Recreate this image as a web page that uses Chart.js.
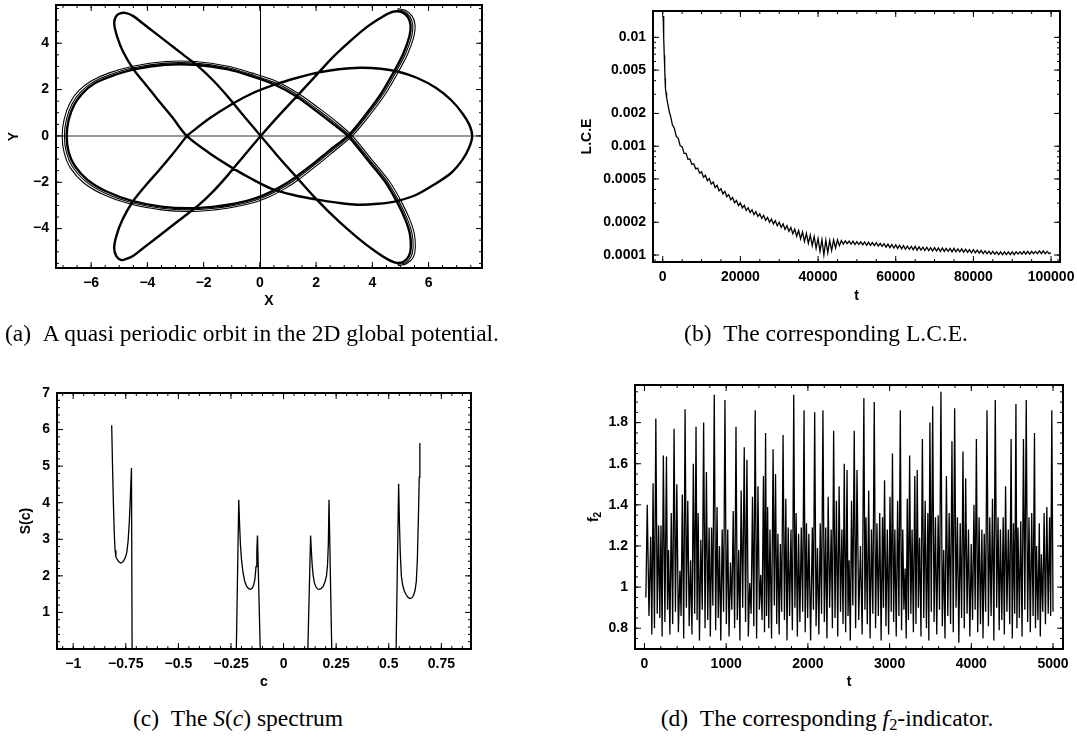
<!DOCTYPE html>
<html>
<head>
<meta charset="utf-8">
<title>Quasi periodic orbit, L.C.E., S(c) spectrum and f2-indicator</title>
<script src="https://cdn.jsdelivr.net/npm/chart.js@4.4.1/dist/chart.umd.min.js"></script>
<style>
  html, body { margin: 0; padding: 0; background: #fff; }
  body { position: relative; width: 1077px; height: 738px; overflow: hidden; }
  .panel { position: absolute; }
  .cap {
    position: absolute; white-space: nowrap; color: #000;
    font-family: "Liberation Serif", "Times New Roman", serif;
    font-size: 23.5px; line-height: 23px;
  }
  .cap sub { font-size: 70%; line-height: 0; vertical-align: -0.22em; }
</style>
</head>
<body>
<div class="panel" style="left:0;top:0;width:490px;height:310px"><canvas id="orbitChart"></canvas></div>
<div class="panel" style="left:540px;top:0;width:537px;height:305px"><canvas id="lceChart"></canvas></div>
<div class="panel" style="left:0;top:330px;width:490px;height:361px"><canvas id="spectrumChart"></canvas></div>
<div class="panel" style="left:540px;top:330px;width:537px;height:361px"><canvas id="f2Chart"></canvas></div>

<div class="cap" style="left:499px;top:322px;transform:translateX(-100%)">(a)&ensp;A quasi periodic orbit in the 2D global potential.</div>
<div class="cap" style="left:826px;top:322px;transform:translateX(-50%)">(b)&ensp;The corresponding L.C.E.</div>
<div class="cap" style="left:238px;top:707px;transform:translateX(-50%)">(c)&ensp;The <i>S</i>(<i>c</i>) spectrum</div>
<div class="cap" style="left:827px;top:707px;transform:translateX(-50%)">(d)&ensp;The corresponding <i>f</i><sub>2</sub>-indicator.</div>

<script>
'use strict';

// ---------------------------------------------------------------------------
// Data
// ---------------------------------------------------------------------------

// (a) orbit in the (X, Y) plane, one closed pass, [x, y]
const orbitMain = [
  [-2.6,0],[-1.8,0.75],[-1.0,1.37],[-0.3,1.82],[0.5,2.2],[1.3,2.5],[2.05,2.73],[2.8,2.88],[3.57,2.94],[4.3,2.9],
  [4.9,2.78],[5.6,2.5],[6.27,2.07],[6.8,1.55],[7.2,0.98],[7.45,0.48],[7.55,0],
  [7.45,-0.48],[7.22,-1.0],[6.8,-1.6],[6.2,-2.1],[5.55,-2.55],[4.9,-2.8],[4.2,-2.93],[3.46,-2.97],[2.75,-2.88],
  [2.05,-2.75],[1.2,-2.55],[0.4,-2.27],[-0.3,-1.85],[-0.95,-1.4],[-1.75,-0.78],[-2.6,0],
  [-3.1,0.78],[-3.6,1.52],[-4.05,2.2],[-4.48,2.85],[-4.85,3.6],[-5.08,4.3],[-5.18,4.85],[-5.12,5.15],[-4.97,5.29],
  [-4.75,5.3],[-4.5,5.17],[-4.18,4.87],[-3.75,4.47],[-3.36,4.1],[-2.75,3.53],[-2.19,3.0],[-1.65,2.38],[-1.13,1.68],
  [-0.55,0.83],[0.03,0],
  [0.6,-0.82],[1.23,-1.68],[2.05,-2.78],[2.8,-3.68],[3.5,-4.42],[4.1,-4.98],[4.55,-5.33],[4.87,-5.48],[5.12,-5.42],
  [5.3,-5.18],[5.37,-4.8],[5.33,-4.2],[5.17,-3.6],[4.9,-2.9],[4.47,-2.0],[3.82,-1.02],[3.13,0],
  [2.6,0.52],[2.0,1.08],[1.29,1.71],[0.52,2.22],[-0.3,2.58],[-1.13,2.87],[-2.3,3.07],[-3.36,3.07],[-4.48,2.87],
  [-5.3,2.57],[-5.9,2.25],[-6.3,1.85],[-6.6,1.35],[-6.8,0.7],[-6.87,0],
  [-6.8,-0.7],[-6.58,-1.3],[-6.13,-1.9],[-5.45,-2.4],[-4.55,-2.8],[-3.5,-3.05],[-2.54,-3.12],[-1.6,-3.05],
  [-1.13,-2.97],[-0.4,-2.78],[0.16,-2.54],[0.7,-2.22],[1.23,-1.81],[1.9,-1.2],[2.5,-0.6],[3.13,0],
  [3.72,0.85],[4.3,1.8],[4.75,2.73],[5.1,3.55],[5.32,4.3],[5.36,4.78],[5.27,5.12],[5.07,5.33],[4.85,5.38],
  [4.6,5.3],[4.2,5.02],[3.7,4.6],[3.22,4.1],[2.6,3.4],[2.05,2.68],[1.23,1.6],[0.6,0.78],[0.03,0],
  [-0.55,-0.83],[-1.13,-1.68],[-1.65,-2.38],[-2.19,-3.0],[-2.75,-3.53],[-3.36,-4.1],[-3.75,-4.47],[-4.18,-4.87],
  [-4.5,-5.17],[-4.75,-5.31],[-4.92,-5.36],[-5.1,-5.2],[-5.18,-4.85],[-5.1,-4.3],[-4.88,-3.6],[-4.53,-2.85],
  [-4.07,-2.15],[-3.6,-1.5],[-3.1,-0.78],[-2.6,0],
];

// (a) the slightly drifted later passes along the outer arcs and petal sides
const orbitDriftA = [
  [4.89,-5.55],[5.18,-5.47],[5.38,-5.2],[5.45,-4.8],[5.41,-4.2],[5.25,-3.6],[4.98,-2.9],[4.55,-2.0],[3.9,-1.02],
  [3.21,0],[2.66,0.57],[2.05,1.14],[1.33,1.77],[0.55,2.29],[-0.3,2.65],[-1.13,2.94],[-2.3,3.14],[-3.36,3.14],
  [-4.5,2.94],[-5.34,2.64],[-5.95,2.31],[-6.37,1.9],[-6.68,1.38],[-6.88,0.71],[-6.95,0],[-6.88,-0.71],
  [-6.66,-1.34],[-6.2,-1.96],[-5.5,-2.47],[-4.58,-2.87],[-3.5,-3.12],[-2.54,-3.19],[-1.6,-3.12],[-1.12,-3.04],
  [-0.37,-2.85],[0.2,-2.61],[0.75,-2.28],[1.29,-1.86],[1.96,-1.24],[2.57,-0.63],[3.21,0],[3.8,0.85],[4.38,1.8],
  [4.83,2.73],[5.18,3.55],[5.4,4.3],[5.44,4.78],[5.34,5.15],[5.12,5.38],[4.88,5.44],
];
const orbitDriftB = [
  [4.91,-5.6],[5.23,-5.51],[5.46,-5.22],[5.53,-4.8],[5.49,-4.2],[5.33,-3.6],[5.06,-2.9],[4.63,-2.0],[3.98,-1.02],
  [3.29,0],[2.72,0.62],[2.1,1.2],[1.37,1.83],[0.58,2.36],[-0.3,2.72],[-1.13,3.01],[-2.3,3.21],[-3.36,3.21],
  [-4.52,3.01],[-5.38,2.71],[-6.0,2.37],[-6.44,1.95],[-6.76,1.41],[-6.96,0.72],[-7.03,0],[-6.96,-0.72],
  [-6.74,-1.38],[-6.27,-2.02],[-5.55,-2.54],[-4.61,-2.94],[-3.5,-3.19],[-2.54,-3.26],[-1.6,-3.19],[-1.1,-3.11],
  [-0.34,-2.92],[0.24,-2.68],[0.8,-2.34],[1.35,-1.91],[2.02,-1.28],[2.64,-0.66],[3.29,0],[3.88,0.85],[4.46,1.8],
  [4.91,2.73],[5.26,3.55],[5.48,4.3],[5.52,4.79],[5.41,5.18],[5.17,5.42],[4.9,5.5],
];

const orbitXTicks  = [-6, -4, -2, 0, 2, 4, 6];
const orbitXLabels = ['\u22126', '\u22124', '\u22122', '0', '2', '4', '6'];
const orbitYTicks  = [-4, -2, 0, 2, 4];
const orbitYLabels = ['\u22124', '\u22122', '0', '2', '4'];

// (b) L.C.E. against t, [t, L.C.E x 1e4]
const lceSamplesE4 = [
  [100,157],[250,100],[400,68],[500,54],[600,42],[700,34],[850,31],[1000,28],[1250,25],[1500,22.5],[1750,20.3],
  [2000,19.1],[2500,15.7],[3000,14.6],[3500,12.3],[4000,11.8],[4500,10.1],[5000,9.9],[5500,8.6],[6000,8.6],
  [6500,7.6],[7000,7.65],[7500,6.8],[8000,6.9],[8500,6.2],[9000,6.3],[9500,5.65],[10000,5.82],[10500,5.18],
  [11000,5.41],[11500,4.82],[12000,5.04],[12500,4.48],[13000,4.68],[13500,4.18],[14000,4.37],[14500,3.89],
  [15000,4.06],[15500,3.65],[16000,3.85],[16500,3.43],[17000,3.59],[17500,3.22],[18000,3.38],[18500,3.02],
  [19000,3.17],[19500,2.85],[20000,3.02],[20500,2.71],[21000,2.86],[21500,2.57],[22000,2.72],[22500,2.46],
  [23000,2.6],[23500,2.35],[24000,2.5],[24500,2.26],[25000,2.39],[25500,2.17],[26000,2.31],[26500,2.08],
  [27000,2.22],[27500,2.0],[28000,2.14],[28500,1.93],[29000,2.07],[29500,1.86],[30000,2.0],[30500,1.79],
  [31000,1.93],[31500,1.72],[32000,1.86],[32500,1.65],[33000,1.79],[33500,1.57],[34000,1.73],[34500,1.49],
  [35000,1.68],[35500,1.41],[36000,1.63],[36500,1.33],[37000,1.58],[37500,1.28],[38000,1.52],[38500,1.22],
  [39000,1.48],[39500,1.15],[40000,1.42],[40500,1.08],[41000,1.38],[41500,1.0],[42000,1.37],[42500,1.05],
  [43000,1.36],[43500,1.1],[44000,1.38],[44500,1.16],[45000,1.38],[45500,1.22],[46000,1.36],[46500,1.26],
  [47000,1.35],[47500,1.27],[48000,1.34],[48500,1.26],[49000,1.34],[49500,1.25],[50000,1.33],[50500,1.25],
  [51000,1.32],[51500,1.24],[52000,1.32],[52500,1.23],[53000,1.31],[53500,1.23],[54000,1.3],[54500,1.22],
  [55000,1.3],[55500,1.21],[56000,1.28],[56500,1.2],[57000,1.27],[57500,1.18],[58000,1.26],[58500,1.17],
  [59000,1.25],[59500,1.16],[60000,1.24],[60500,1.15],[61000,1.23],[61500,1.14],[62000,1.22],[62500,1.13],
  [63000,1.21],[63500,1.13],[64000,1.2],[64500,1.12],[65000,1.2],[65500,1.11],[66000,1.19],[66500,1.11],
  [67000,1.18],[67500,1.1],[68000,1.18],[68500,1.1],[69000,1.17],[69500,1.09],[70000,1.17],[70500,1.09],
  [71000,1.16],[71500,1.08],[72000,1.16],[72500,1.08],[73000,1.15],[73500,1.08],[74000,1.15],[74500,1.07],
  [75000,1.15],[75500,1.07],[76000,1.14],[76500,1.07],[77000,1.14],[77500,1.06],[78000,1.13],[78500,1.06],
  [79000,1.12],[79500,1.05],[80000,1.12],[80500,1.05],[81000,1.11],[81500,1.04],[82000,1.1],[82500,1.03],
  [83000,1.09],[83500,1.03],[84000,1.08],[84500,1.02],[85000,1.08],[85500,1.02],[86000,1.07],[86500,1.01],
  [87000,1.07],[87500,1.01],[88000,1.07],[88500,1.01],[89000,1.07],[89500,1.01],[90000,1.07],[90500,1.01],
  [91000,1.07],[91500,1.02],[92000,1.07],[92500,1.02],[93000,1.08],[93500,1.02],[94000,1.08],[94500,1.02],
  [95000,1.08],[95500,1.03],[96000,1.08],[96500,1.03],[97000,1.09],[97500,1.03],[98000,1.09],[98500,1.03],
  [99000,1.08],[99500,1.03],[100000,1.05],
];

const lceXTicks  = [0, 20000, 40000, 60000, 80000, 100000];
const lceXLabels = ['0', '20000', '40000', '60000', '80000', '100000'];
const lceYTicks  = [0.0001, 0.0002, 0.0005, 0.001, 0.002, 0.005, 0.01];
const lceYLabels = ['0.0001', '0.0002', '0.0005', '0.001', '0.002', '0.005', '0.01'];

// (c) S(c) spectrum, four separate bands, [c, S]
const spectrumBand1 = [
  [-0.817,6.12],[-0.813,5.0],[-0.809,4.0],[-0.805,3.2],[-0.801,2.7],[-0.797,2.52],[-0.79,2.44],[-0.782,2.38],
  [-0.774,2.35],[-0.766,2.37],[-0.758,2.43],[-0.751,2.52],[-0.745,2.65],[-0.739,2.95],[-0.733,3.5],[-0.728,4.2],
  [-0.723,4.95],[-0.72,0],
];
const spectrumBand2 = [
  [-0.2245,0],[-0.213,4.08],[-0.209,3.4],[-0.205,2.85],[-0.2,2.45],[-0.193,2.1],[-0.185,1.86],[-0.176,1.72],
  [-0.166,1.65],[-0.157,1.63],[-0.149,1.66],[-0.142,1.75],[-0.136,1.92],[-0.131,2.25],[-0.127,2.7],[-0.124,3.1],
  [-0.111,0],
];
const spectrumBand3 = [
  [0.1155,0],[0.1285,3.1],[0.132,2.7],[0.136,2.3],[0.141,2.0],[0.147,1.8],[0.154,1.7],[0.162,1.64],[0.171,1.63],
  [0.18,1.66],[0.189,1.72],[0.197,1.84],[0.204,2.0],[0.209,2.3],[0.213,2.9],[0.216,4.08],[0.229,0],
];
const spectrumBand4 = [
  [0.535,0],[0.547,4.52],[0.551,3.4],[0.555,2.6],[0.56,2.0],[0.566,1.75],[0.573,1.6],[0.582,1.49],[0.592,1.41],
  [0.601,1.38],[0.61,1.4],[0.618,1.47],[0.625,1.6],[0.631,1.85],[0.636,2.44],[0.641,3.6],[0.645,4.7],[0.648,5.63],
];

const specXTicks  = [-1, -0.75, -0.5, -0.25, 0, 0.25, 0.5, 0.75];
const specXLabels = ['\u22121', '\u22120.75', '\u22120.5', '\u22120.25', '0', '0.25', '0.5', '0.75'];
const specYTicks  = [1, 2, 3, 4, 5, 6, 7];
const specYLabels = ['1', '2', '3', '4', '5', '6', '7'];

// (d) f2-indicator against t: local maxima and minima, [t, f2]
const f2Peaks = [
  [34,1.40],[76,1.245],[105,1.505],[139,1.82],[173,1.30],[202,1.30],[231,1.64],[269,1.635],[295,1.18],[328,1.36],
  [362,1.77],[396,1.50],[434,1.08],[463,1.45],[497,1.865],[530,1.42],[564,1.13],[598,1.60],[631,1.78],[657,1.36],
  [690,1.23],[724,1.80],[758,1.56],[791,1.29],[821,1.29],[854,1.935],[888,1.39],[918,1.20],[951,1.28],[985,1.91],
  [1019,1.28],[1052,1.12],[1086,1.37],[1120,1.78],[1153,1.18],[1183,1.47],[1221,1.68],[1254,1.62],[1288,1.02],[1322,1.44],
  [1355,1.86],[1389,1.49],[1423,1.06],[1456,1.54],[1482,1.75],[1507,1.39],[1536,1.28],[1574,1.67],[1604,1.55],[1633,1.26],
  [1663,1.21],[1696,1.74],[1730,1.43],[1759,1.29],[1793,1.28],[1827,1.935],[1856,1.36],[1886,1.26],[1919,1.29],[1953,1.86],
  [1982,1.31],[2012,1.26],[2054,1.29],[2083,1.85],[2117,1.19],[2151,1.31],[2184,1.86],[2218,1.29],[2248,1.44],[2285,1.28],
  [2315,1.76],[2349,1.42],[2382,1.49],[2416,1.28],[2445,1.60],[2479,1.57],[2504,1.13],[2534,1.42],[2567,1.76],[2601,1.57],
  [2643,1.20],[2685,1.92],[2711,1.34],[2744,1.47],[2778,1.28],[2812,1.90],[2845,1.31],[2879,1.36],[2913,1.34],[2938,1.52],
  [2972,1.28],[3005,1.44],[3035,1.65],[3064,1.28],[3098,1.42],[3131,1.86],[3161,1.28],[3190,1.09],[3216,1.43],[3245,1.64],
  [3275,1.28],[3308,1.54],[3338,1.57],[3367,1.24],[3401,1.72],[3435,1.42],[3468,1.36],[3493,1.80],[3527,1.88],[3561,1.34],
  [3594,1.35],[3628,1.95],[3662,1.18],[3695,1.54],[3729,1.36],[3763,1.71],[3796,1.87],[3830,1.34],[3864,1.31],[3898,1.66],
  [3931,1.53],[3965,1.28],[3999,1.21],[4032,1.40],[4062,1.72],[4095,1.34],[4129,1.28],[4158,1.26],[4192,1.86],[4226,1.34],
  [4259,1.43],[4293,1.91],[4327,1.34],[4356,1.28],[4390,1.34],[4419,1.49],[4453,1.28],[4487,1.72],[4516,1.31],[4546,1.89],
  [4571,1.29],[4605,1.32],[4638,1.72],[4672,1.91],[4706,1.34],[4739,1.36],[4773,1.75],[4798,1.20],[4832,1.31],[4857,1.16],
  [4891,1.36],[4924,1.39],[4958,1.34],[4985,1.86],
];
const f2Troughs = [
  [17,0.95],[55,0.86],[90,0.77],[122,0.80],[156,0.87],[188,0.85],[216,0.76],[250,0.83],[282,0.89],[311,0.77],[345,0.82],
  [379,0.88],[415,0.78],[448,0.86],[480,0.75],[513,0.90],[547,0.81],[581,0.77],[614,0.87],[644,0.84],[673,0.74],
  [707,0.89],[741,0.80],[774,0.84],[806,0.76],[837,0.91],[871,0.79],[903,0.85],[934,0.74],[968,0.88],[1002,0.82],
  [1035,0.76],[1069,0.89],[1103,0.80],[1136,0.84],[1168,0.74],[1202,0.90],[1237,0.83],[1271,0.76],[1305,0.87],[1338,0.81],
  [1372,0.75],[1406,0.89],[1439,0.84],[1469,0.78],[1494,0.86],[1521,0.80],[1555,0.75],[1589,0.91],[1618,0.82],[1648,0.77],
  [1679,0.88],[1713,0.84],[1744,0.74],[1776,0.86],[1810,0.79],[1841,0.90],[1871,0.76],[1902,0.83],[1936,0.88],[1967,0.78],
  [1997,0.85],[2033,0.74],[2068,0.89],[2100,0.81],[2134,0.77],[2167,0.87],[2201,0.83],[2233,0.75],[2266,0.90],[2300,0.80],
  [2332,0.85],[2365,0.76],[2399,0.88],[2430,0.82],[2462,0.78],[2491,0.86],[2519,0.74],[2550,0.91],[2584,0.80],[2622,0.84],
  [2664,0.77],[2698,0.89],[2727,0.82],[2761,0.75],[2795,0.87],[2828,0.80],[2862,0.86],[2896,0.74],[2925,0.90],[2955,0.81],
  [2988,0.77],[3020,0.88],[3049,0.83],[3081,0.76],[3114,0.86],[3146,0.79],[3175,0.89],[3203,0.75],[3230,0.84],[3260,0.87],
  [3291,0.78],[3323,0.82],[3352,0.90],[3384,0.76],[3418,0.85],[3451,0.80],[3480,0.74],[3510,0.88],[3544,0.83],[3577,0.77],
  [3611,0.89],[3645,0.81],[3678,0.75],[3712,0.86],[3746,0.82],[3779,0.78],[3813,0.90],[3847,0.73],[3881,0.85],[3914,0.80],
  [3948,0.87],[3982,0.76],[4015,0.84],[4047,0.89],[4078,0.78],[4112,0.82],[4143,0.75],[4175,0.88],[4209,0.81],[4242,0.86],
  [4276,0.74],[4310,0.90],[4341,0.79],[4373,0.84],[4404,0.77],[4436,0.88],[4470,0.82],[4501,0.75],[4531,0.87],[4558,0.80],
  [4588,0.85],[4621,0.76],[4655,0.89],[4689,0.83],[4722,0.78],[4756,0.86],[4785,0.80],[4815,0.84],[4844,0.76],[4874,0.88],
  [4907,0.82],[4941,0.87],[4971,0.86],[5000,0.88],
];

const f2XTicks  = [0, 1000, 2000, 3000, 4000, 5000];
const f2XLabels = ['0', '1000', '2000', '3000', '4000', '5000'];
const f2YTicks  = [0.8, 1, 1.2, 1.4, 1.6, 1.8];
const f2YLabels = ['0.8', '1', '1.2', '1.4', '1.6', '1.8'];

// ---------------------------------------------------------------------------
// Helpers
// ---------------------------------------------------------------------------

const FONT_FAMILY = 'Liberation Sans';
const TICK_FONT   = { family: FONT_FAMILY, size: 14, weight: 'bold' };
const TITLE_FONT  = { family: FONT_FAMILY, size: 14, weight: 'bold', lineHeight: 1.2 };

function pts(pairs, scale = 1) { return pairs.map(([x, y]) => ({ x, y: y * scale })); }

function minorValues(min, max, step) {
  if (!step) return [];
  const out = [];
  for (let i = Math.ceil(min / step - 1e-9); i * step <= max + 1e-9; i++) out.push(i * step);
  return out;
}

function logMinorValues(min, max) {
  const out = [];
  for (let k = Math.floor(Math.log10(min)); k <= Math.ceil(Math.log10(max)); k++) {
    for (let m = 1; m <= 9; m++) {
      const v = m * Math.pow(10, k);
      if (v >= min && v <= max) out.push(v);
    }
  }
  return out;
}

// Axis with fixed size, fixed tick list and bold labels
function axis({ type = 'linear', min, max, ticks, labels, title, size, horizontal }) {
  return {
    type, min, max,
    border: { display: false },
    grid:   { display: false, drawTicks: false },
    ticks: {
      color: '#000', font: TICK_FONT, padding: 7,
      autoSkip: false, maxRotation: 0, minRotation: 0,
      callback: (v, i) => labels[i],
    },
    title: { display: !!title, text: title || '', color: '#000', font: TITLE_FONT, padding: 0 },
    afterBuildTicks: s => { s.ticks = ticks.map(v => ({ value: v })); },
    afterFit: s => {
      if (horizontal) s.height = size; else s.width = size;
      s.paddingLeft = s.paddingRight = s.paddingTop = s.paddingBottom = 0;
    },
  };
}

function line(data, width, extra = {}) {
  return Object.assign({
    data, showLine: true, pointRadius: 0, borderColor: '#000',
    borderWidth: width, tension: 0, fill: false,
  }, extra);
}

// Frame, inner tick marks on all four sides, the (a) zero axes and a subscripted y title
const framePlugin = {
  id: 'frame',
  beforeDatasetsDraw(chart, args, opts) {
    if (!opts.zeroLines) return;
    const { ctx, chartArea: a, scales: { x, y } } = chart;
    const x0 = Math.round(x.getPixelForValue(0)) + 0.5;
    const y0 = Math.round(y.getPixelForValue(0));
    ctx.save();
    ctx.lineWidth = 1.5; ctx.strokeStyle = '#777';
    ctx.beginPath(); ctx.moveTo(a.left, y0); ctx.lineTo(a.right, y0); ctx.stroke();
    ctx.lineWidth = 1; ctx.strokeStyle = '#000';
    ctx.beginPath(); ctx.moveTo(x0, a.top); ctx.lineTo(x0, a.bottom); ctx.stroke();
    ctx.restore();
  },
  afterDatasetsDraw(chart, args, opts) {
    const { ctx, chartArea: a, scales: { x, y } } = chart;
    const tickX = (v, len) => {
      const px = x.getPixelForValue(v);
      if (px < a.left + 1 || px > a.right - 1) return;
      ctx.moveTo(px, a.bottom); ctx.lineTo(px, a.bottom - len);
      ctx.moveTo(px, a.top);    ctx.lineTo(px, a.top + len);
    };
    const tickY = (v, len) => {
      const py = y.getPixelForValue(v);
      if (py < a.top + 1 || py > a.bottom - 1) return;
      ctx.moveTo(a.left, py);  ctx.lineTo(a.left + len, py);
      ctx.moveTo(a.right, py); ctx.lineTo(a.right - len, py);
    };
    ctx.save();
    ctx.strokeStyle = '#000';
    ctx.lineWidth = 1;
    ctx.beginPath();
    minorValues(x.min, x.max, opts.xMinor).forEach(v => tickX(v, 3));
    const yMinor = opts.yLog ? logMinorValues(y.min, y.max) : minorValues(y.min, y.max, opts.yMinor);
    yMinor.forEach(v => tickY(v, 3));
    x.ticks.forEach(t => tickX(t.value, 6));
    y.ticks.forEach(t => tickY(t.value, 6));
    ctx.stroke();
    ctx.lineWidth = 2;
    ctx.strokeRect(a.left, a.top, a.right - a.left, a.bottom - a.top);

    if (opts.subTitle) {
      const { main, sub } = opts.subTitle;
      ctx.fillStyle = '#000';
      ctx.translate(y.left + TITLE_FONT.size * TITLE_FONT.lineHeight / 2, (a.top + a.bottom) / 2);
      ctx.rotate(-Math.PI / 2);
      ctx.textBaseline = 'middle';
      ctx.font = `bold ${TITLE_FONT.size}px "${FONT_FAMILY}"`;
      const wMain = ctx.measureText(main).width;
      ctx.font = `bold 10px "${FONT_FAMILY}"`;
      const wSub = ctx.measureText(sub).width;
      const start = -(wMain + wSub) / 2;
      ctx.font = `bold ${TITLE_FONT.size}px "${FONT_FAMILY}"`;
      ctx.fillText(main, start, 0);
      ctx.font = `bold 10px "${FONT_FAMILY}"`;
      ctx.fillText(sub, start + wMain, 4);
    }
    ctx.restore();
  },
};

function makeChart(id, { datasets, padding, x, y, frame }) {
  return new Chart(document.getElementById(id), {
    type: 'scatter',
    data: { datasets },
    options: {
      responsive: true,
      maintainAspectRatio: false,
      animation: false,
      events: [],
      layout: { padding },
      plugins: { legend: { display: false }, tooltip: { enabled: false }, frame },
      scales: { x, y },
    },
    plugins: [framePlugin],
  });
}

// ---------------------------------------------------------------------------
// Charts
// ---------------------------------------------------------------------------

makeChart('orbitChart', {
  datasets: [
    line(pts(orbitDriftB), 1.1, { tension: 0.3 }),
    line(pts(orbitDriftA), 1.1, { tension: 0.3 }),
    line(pts(orbitMain),   2.4, { tension: 0.3, borderJoinStyle: 'round' }),
  ],
  padding: { left: 6, right: 8, top: 5, bottom: 0 },
  x: axis({ min: -7.25, max: 7.9, ticks: orbitXTicks, labels: orbitXLabels, title: 'X', size: 42, horizontal: true }),
  y: axis({ min: -5.7, max: 5.65, ticks: orbitYTicks, labels: orbitYLabels, title: 'Y', size: 50 }),
  frame: { xMinor: 0.5, yMinor: 0.5, zeroLines: true },
});

makeChart('lceChart', {
  datasets: [ line(pts(lceSamplesE4, 1e-4), 1.3) ],
  padding: { left: 39, right: 17, top: 11, bottom: 0 },
  x: axis({ min: -2500, max: 102300, ticks: lceXTicks, labels: lceXLabels, title: 't', size: 43, horizontal: true }),
  y: axis({ type: 'logarithmic', min: 0.0000863, max: 0.01746, ticks: lceYTicks, labels: lceYLabels, title: 'L.C.E', size: 74 }),
  frame: { xMinor: 5000, yLog: true },
});

makeChart('spectrumChart', {
  datasets: [spectrumBand1, spectrumBand2, spectrumBand3, spectrumBand4].map(b => line(pts(b), 1.3)),
  padding: { left: 18, right: 19, top: 63, bottom: 0 },
  x: axis({ min: -1.077, max: 0.891, ticks: specXTicks, labels: specXLabels, title: 'c', size: 42, horizontal: true }),
  y: axis({ min: 0, max: 7, ticks: specYTicks, labels: specYLabels, title: 'S(c)', size: 39 }),
  frame: { xMinor: 0.05, yMinor: 0.2 },
});

const f2Series = f2Peaks.concat(f2Troughs).sort((a, b) => a[0] - b[0]);

makeChart('f2Chart', {
  datasets: [ line(pts(f2Series), 1.3) ],
  padding: { left: 46, right: 14, top: 55, bottom: 0 },
  x: axis({ min: -116, max: 5122, ticks: f2XTicks, labels: f2XLabels, title: 't', size: 42, horizontal: true }),
  y: axis({ min: 0.699, max: 1.983, ticks: f2YTicks, labels: f2YLabels, title: '', size: 49 }),
  frame: { xMinor: 200, yMinor: 0.05, subTitle: { main: 'f', sub: '2' } },
});
</script>
</body>
</html>
